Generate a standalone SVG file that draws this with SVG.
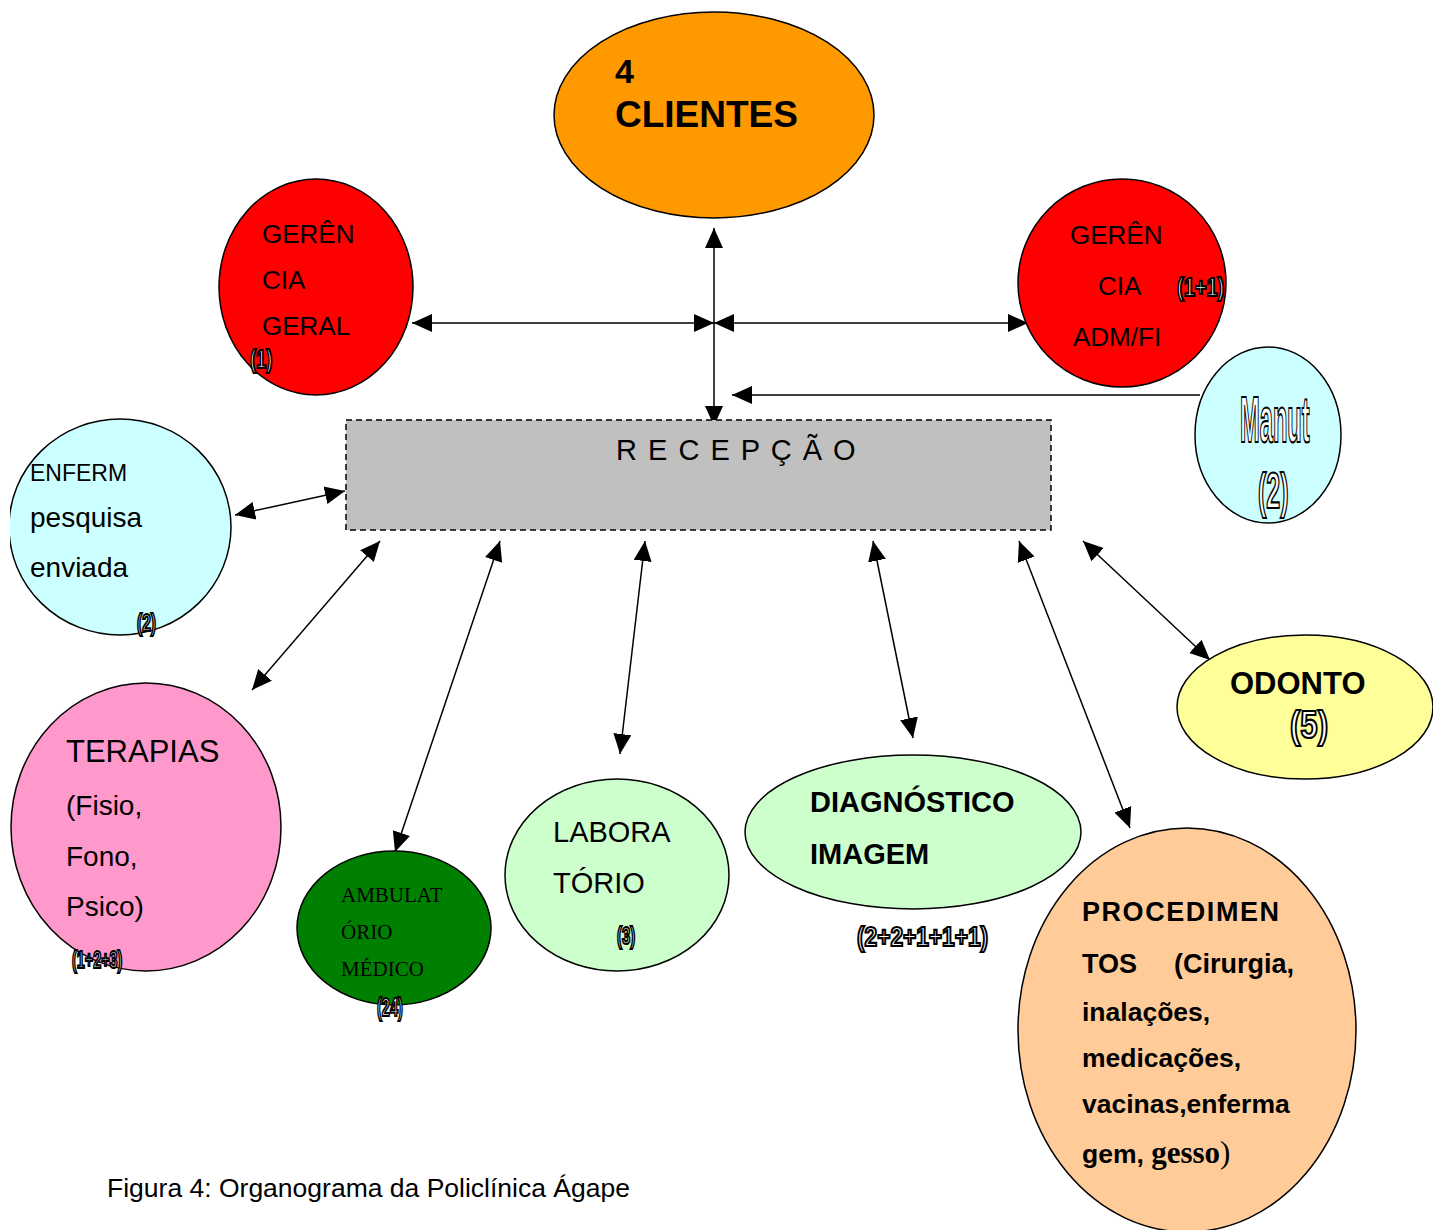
<svg xmlns="http://www.w3.org/2000/svg" width="1433" height="1230" viewBox="0 0 1433 1230">
<style>
.n{stroke:#000;stroke-width:1.5}
.s{font-family:"Liberation Sans",Arial,sans-serif;fill:#000}
.b{font-family:"Liberation Sans",Arial,sans-serif;font-weight:bold;fill:#000}
.t{font-family:"Liberation Serif","Times New Roman",serif;fill:#000}
.ol{font-family:"Liberation Sans",Arial,sans-serif;font-weight:bold;fill:#fff;stroke:#000;stroke-width:2.2}
.c{stroke:#000;stroke-width:1.5;fill:none;marker-start:url(#ah);marker-end:url(#ah)}
.c1{stroke:#000;stroke-width:1.5;fill:none;marker-end:url(#ah)}
</style>
<defs>
<marker id="ah" markerUnits="userSpaceOnUse" markerWidth="20" markerHeight="20" refX="20" refY="10" viewBox="0 0 20 20" orient="auto-start-reverse">
<path d="M0,1 L20,10 L0,19 z" fill="#000"/>
</marker>
<clipPath id="clipL"><rect x="10" y="0" width="1423" height="1230"/></clipPath>
</defs>
<rect width="1433" height="1230" fill="#fff"/>

<g id="connectors">
<line class="c" x1="714" y1="228" x2="714" y2="426"/>
<line class="c" x1="412" y1="323" x2="714" y2="323"/>
<line class="c" x1="714" y1="323" x2="1028" y2="323"/>
<line class="c1" x1="1200" y1="395" x2="732" y2="395"/>
<line class="c" x1="235" y1="515" x2="345" y2="491"/>
<line class="c" x1="252" y1="690" x2="380" y2="541"/>
<line class="c" x1="395" y1="852" x2="500" y2="541"/>
<line class="c" x1="620" y1="754" x2="645" y2="541"/>
<line class="c" x1="913" y1="738" x2="873" y2="541"/>
<line class="c" x1="1130" y1="828" x2="1019" y2="541"/>
<line class="c" x1="1210" y1="660" x2="1083" y2="541"/>
</g>

<g id="clientes">
<ellipse class="n" cx="714" cy="115" rx="160" ry="103" fill="#FF9900"/>
<text class="b" x="615" y="83" font-size="34">4</text>
<text class="b" x="615" y="127" font-size="37">CLIENTES</text>
</g>

<g id="gerencia-geral">
<ellipse class="n" cx="316" cy="287" rx="97" ry="108" fill="#FF0000"/>
<text class="s" x="262" y="243" font-size="26">GERÊN</text>
<text class="s" x="262" y="289" font-size="26">CIA</text>
<text class="s" x="262" y="335" font-size="26">GERAL</text>
<text class="ol" font-size="26" transform="translate(250,368) scale(0.7,1)">(1)</text>
</g>

<g id="gerencia-adm">
<ellipse class="n" cx="1122" cy="283" rx="104" ry="104" fill="#FF0000"/>
<text class="s" x="1070" y="244" font-size="26">GERÊN</text>
<text class="s" x="1098" y="295" font-size="26">CIA</text>
<text class="ol" font-size="26" transform="translate(1177,296) scale(0.77,1)">(1+1)</text>
<text class="s" x="1073" y="346" font-size="26">ADM/FI</text>
</g>

<g id="manut">
<ellipse class="n" cx="1268" cy="435" rx="73" ry="88" fill="#CCFFFF"/>
<text class="ol" font-size="64" stroke-width="3.5" transform="translate(1240,442) scale(0.37,1)">Manut</text>
<text class="ol" font-size="50" stroke-width="3" transform="translate(1258,508) scale(0.5,1)">(2)</text>
</g>

<g id="recepcao">
<rect x="346" y="420" width="705" height="110" fill="#C0C0C0" stroke="#000" stroke-width="1.5" stroke-dasharray="6,4"/>
<text class="s" x="616" y="460" font-size="29" letter-spacing="1.5">R E C E P Ç Ã O</text>
</g>

<g id="enferm">
<ellipse class="n" cx="120" cy="527" rx="111" ry="108" fill="#CCFFFF" clip-path="url(#clipL)"/>
<text class="s" x="30" y="481" font-size="23">ENFERM</text>
<text class="s" x="30" y="527" font-size="28">pesquisa</text>
<text class="s" x="30" y="577" font-size="28">enviada</text>
<text class="ol" font-size="24" transform="translate(137,631) scale(0.65,1)">(2)</text>
</g>

<g id="terapias">
<ellipse class="n" cx="146" cy="827" rx="135" ry="144" fill="#FF99CC"/>
<text class="s" x="66" y="762" font-size="31">TERAPIAS</text>
<text class="s" x="66" y="815" font-size="28">(Fisio,</text>
<text class="s" x="66" y="866" font-size="28">Fono,</text>
<text class="s" x="66" y="916" font-size="28">Psico)</text>
<text class="ol" font-size="24" transform="translate(72,968) scale(0.6,1)">(1+2+3)</text>
</g>

<g id="ambulatorio">
<ellipse class="n" cx="394" cy="928" rx="97" ry="77" fill="#008000"/>
<text class="t" x="341" y="902" font-size="21">AMBULAT</text>
<text class="t" x="341" y="939" font-size="21">ÓRIO</text>
<text class="t" x="341" y="976" font-size="21">MÉDICO</text>
<text class="ol" font-size="26" transform="translate(377,1016) scale(0.56,1)">(24)</text>
</g>

<g id="laboratorio">
<ellipse class="n" cx="617" cy="875" rx="112" ry="96" fill="#CCFFCC"/>
<text class="s" x="553" y="842" font-size="29">LABORA</text>
<text class="s" x="553" y="893" font-size="29">TÓRIO</text>
<text class="ol" font-size="24" transform="translate(617,944) scale(0.62,1)">(3)</text>
</g>

<g id="diagnostico">
<ellipse class="n" cx="913" cy="832" rx="168" ry="77" fill="#CCFFCC"/>
<text class="b" x="810" y="812" font-size="29">DIAGNÓSTICO</text>
<text class="b" x="810" y="864" font-size="29">IMAGEM</text>
<text class="ol" font-size="27" transform="translate(857,946) scale(0.84,1)">(2+2+1+1+1)</text>
</g>

<g id="odonto">
<ellipse class="n" cx="1305" cy="707" rx="128" ry="72" fill="#FFFF99"/>
<text class="b" x="1230" y="694" font-size="31">ODONTO</text>
<text class="ol" font-size="38" transform="translate(1290,738) scale(0.82,1)">(5)</text>
</g>

<g id="procedimentos">
<ellipse class="n" cx="1187" cy="1030" rx="169" ry="202" fill="#FFCC99"/>
<text class="b" x="1082" y="921" font-size="27" textLength="197" lengthAdjust="spacing">PROCEDIMEN</text>
<text class="b" x="1082" y="973" font-size="27">TOS</text>
<text class="b" x="1174" y="973" font-size="27">(Cirurgia,</text>
<text class="b" x="1082" y="1021" font-size="26.5">inalações,</text>
<text class="b" x="1082" y="1067" font-size="26.5">medicações,</text>
<text class="b" x="1082" y="1113" font-size="26.5">vacinas,enferma</text>
<text x="1082" y="1163"><tspan class="b" font-size="26.5">gem, </tspan><tspan class="t" font-size="31" font-weight="bold">gesso</tspan><tspan class="t" font-size="31">)</tspan></text>
</g>

<text class="s" x="107" y="1197" font-size="26.5">Figura 4: Organograma da Policlínica Ágape</text>
</svg>
